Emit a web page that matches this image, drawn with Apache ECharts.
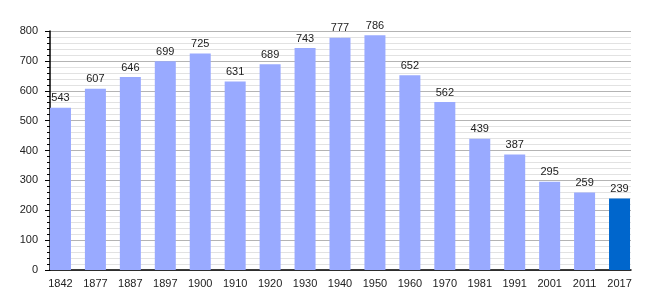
<!DOCTYPE html>
<html><head><meta charset="utf-8">
<script src="https://cdn.jsdelivr.net/npm/echarts@6/dist/echarts.min.js"></script>
<style>html,body{margin:0;padding:0;background:#fff}#c{width:660px;height:300px}</style>
</head><body><div id="c"></div>
<script>
const years = ['1842','1877','1887','1897','1900','1910','1920','1930','1940','1950','1960','1970','1981','1991','2001','2011','2017'];
const population = [543,607,646,699,725,631,689,743,777,786,652,562,439,387,295,259,239];
const yTicks = [0,100,200,300,400,500,600,700,800];
const lightColor = '#99aaff';
const darkColor = '#0066cc';
const font = 'Liberation Sans, Arial, sans-serif';

const chart = echarts.init(document.getElementById('c'), null, {renderer:'canvas'});
chart.setOption({
  animation:false,
  backgroundColor:'#fff',
  grid:[
    {left:50, right:29, top:31, bottom:30},
    {left:43, right:23, top:31, bottom:30}
  ],
  xAxis:[
    {gridIndex:0, type:'category', data:years, boundaryGap:true,
     axisLine:{show:true, lineStyle:{color:'#000', width:1.5}}, axisTick:{show:false},
     axisLabel:{show:false}, splitLine:{show:false}},
    {gridIndex:1, type:'category', data:years, boundaryGap:true,
     axisLine:{show:false}, axisTick:{show:false},
     axisLabel:{color:'#222', fontSize:11, fontFamily:font, margin:8, interval:0}}
  ],
  yAxis:[
    {gridIndex:0, type:'value', min:yTicks[0], max:yTicks[yTicks.length-1], interval:100,
     axisLine:{show:true, lineStyle:{color:'#000', width:1.5}},
     axisTick:{show:true, inside:false, length:5, lineStyle:{color:'#000'}},
     minorTick:{show:true, splitNumber:5, length:3, lineStyle:{color:'#000'}},
     axisLabel:{color:'#222', fontSize:11, fontFamily:font, margin:12},
     splitLine:{show:true, lineStyle:{color:'#b4b4b4', width:1}},
     minorSplitLine:{show:true, lineStyle:{color:'#e2e2e2', width:1}}},
    {gridIndex:1, type:'value', min:yTicks[0], max:yTicks[yTicks.length-1], interval:100, show:false, splitLine:{show:false}}
  ],
  series:[{
    type:'bar', xAxisIndex:1, yAxisIndex:1, barWidth:21,
    data: population.map((v,i)=>({value:v, itemStyle:{color: i===population.length-1?darkColor:lightColor}})),
    label:{show:true, position:'top', distance:4, color:'#222', fontSize:11, fontFamily:font},
    z:3
  }]
});
</script></body></html>
